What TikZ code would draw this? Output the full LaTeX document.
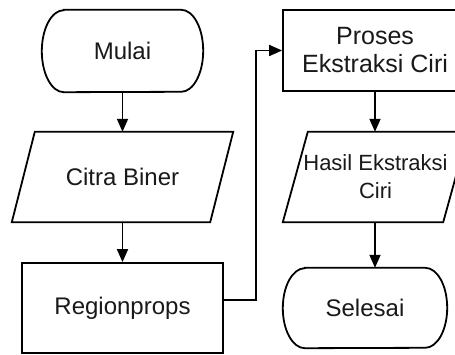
\documentclass[tikz,border=0pt]{standalone}
\usepackage{fontspec}
\setmainfont{Liberation Sans}
\usetikzlibrary{arrows.meta}
\begin{document}
\begin{tikzpicture}[x=1pt,y=1pt,
  line/.style={line width=1.8pt, draw=black},
  arr/.style={line, -{Triangle[length=13pt,width=11pt]}},
  box/.style={inner sep=0pt, align=center, text=black!90, font=\fontsize{24}{28}\selectfont},
]
\useasboundingbox (0,0) rectangle (455,355);
\clip (0,0) rectangle (455,355);
\fill[white] (0,0) rectangle (455,355);

% Mulai (terminal)
\node[box, minimum width=161, minimum height=82] (mulai) at (122.5,304) {Mulai};
\draw[line] ([xshift=22]mulai.north west) -- ([xshift=-22]mulai.north east)
  arc[start angle=90, end angle=-90, x radius=22, y radius=41]
  -- ([xshift=22]mulai.south west)
  arc[start angle=270, end angle=90, x radius=22, y radius=41] -- cycle;

% Citra Biner (input)
\node[box, minimum width=221, minimum height=90] (citra) at (122.5,178) {Citra Biner};
\draw[line] ([xshift=23]citra.north west) -- (citra.north east)
  -- ([xshift=-23]citra.south east) -- (citra.south west) -- cycle;

% Regionprops (process)
\node[box, line, minimum width=201, minimum height=90] (region) at (122.5,47) {Regionprops};

% Proses Ekstraksi Ciri (process)
\node[box, line, minimum width=184, minimum height=81, font=\fontsize{25}{28}\selectfont] (proses) at (375,304.5) {Proses\\Ekstraksi Ciri};

% Hasil Ekstraksi Ciri (output)
\node[box, minimum width=185, minimum height=90, font=\fontsize{22}{28}\selectfont] (hasil) at (375.5,178) {Hasil Ekstraksi\\Ciri};
\draw[line] ([xshift=25]hasil.north west) -- (hasil.north east)
  -- ([xshift=-25]hasil.south east) -- (hasil.south west) -- cycle;

% Selesai (terminal)
\node[box, minimum width=164, minimum height=80] (selesai) at (365,47) {Selesai};
\draw[line] ([xshift=22]selesai.north west) -- ([xshift=-22]selesai.north east)
  arc[start angle=90, end angle=-90, x radius=22, y radius=40]
  -- ([xshift=22]selesai.south west)
  arc[start angle=270, end angle=90, x radius=22, y radius=40] -- cycle;

% connectors
\draw[arr] (mulai.south) -- (citra.north);
\draw[arr] (citra.south) -- (region.north);
\draw[arr] ([yshift=8]region.east) -- ++(32,0) |- (proses.west);
\draw[arr] (proses.south) -- (proses.south |- hasil.north);
\draw[arr] (proses.south |- hasil.south) -- (proses.south |- selesai.north);
\end{tikzpicture}
\end{document}
